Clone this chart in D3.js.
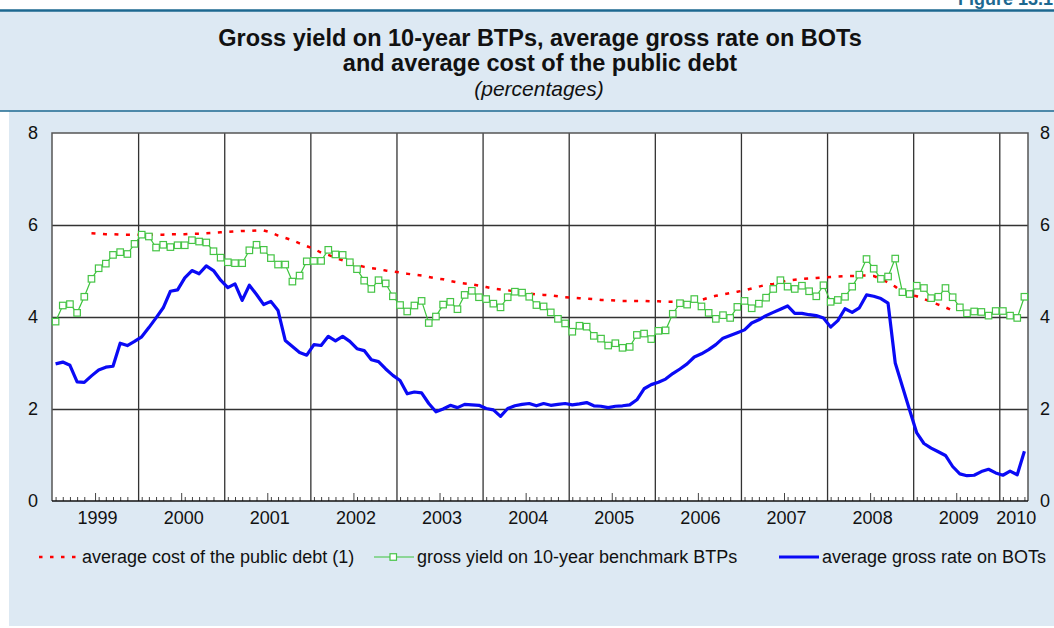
<!DOCTYPE html>
<html>
<head>
<meta charset="utf-8">
<script src="https://cdn.jsdelivr.net/npm/d3@7"></script>
<style>
  body { margin: 0; background: #fff; }
  svg { display: block; font-family: "Liberation Sans", Arial, sans-serif; }
</style>
</head>
<body>
<svg id="chart"></svg>
<script>
// monthly data, Jan 1999 - Apr 2010
const firstYear = 1999;
const yearLabels = ["1999","2000","2001","2002","2003","2004","2005","2006","2007","2008","2009","2010"];
const yTicks = [0, 2, 4, 6, 8];

const btpYield = [
  3.90, 4.25, 4.28, 4.09, 4.44, 4.83, 5.06, 5.16, 5.35, 5.41, 5.37, 5.59,
  5.79, 5.75, 5.51, 5.57, 5.52, 5.56, 5.56, 5.67, 5.64, 5.62, 5.43, 5.29,
  5.19, 5.17, 5.17, 5.45, 5.57, 5.46, 5.28, 5.14, 5.14, 4.77, 4.90, 5.21,
  5.22, 5.22, 5.46, 5.36, 5.35, 5.19, 5.04, 4.79, 4.61, 4.80, 4.73, 4.45,
  4.26, 4.12, 4.25, 4.35, 3.87, 4.01, 4.27, 4.33, 4.17, 4.48, 4.57, 4.43,
  4.39, 4.29, 4.21, 4.43, 4.55, 4.53, 4.44, 4.26, 4.23, 4.10, 3.96, 3.86,
  3.68, 3.81, 3.79, 3.59, 3.53, 3.38, 3.43, 3.33, 3.35, 3.61, 3.64, 3.52,
  3.70, 3.71, 4.07, 4.30, 4.27, 4.39, 4.23, 4.09, 3.96, 4.04, 3.98, 4.22,
  4.35, 4.19, 4.29, 4.42, 4.61, 4.80, 4.66, 4.61, 4.68, 4.56, 4.45, 4.69,
  4.33, 4.37, 4.44, 4.66, 4.92, 5.26, 5.05, 4.83, 4.88, 5.27, 4.54, 4.50,
  4.68, 4.63, 4.41, 4.44, 4.63, 4.43, 4.21, 4.08, 4.12, 4.11, 4.03, 4.13,
  4.13, 4.03, 3.98, 4.44
];

const botRate = [
  2.98, 3.02, 2.95, 2.59, 2.58, 2.72, 2.85, 2.91, 2.93, 3.43, 3.38, 3.47,
  3.57, 3.77, 3.98, 4.20, 4.56, 4.59, 4.85, 5.01, 4.94, 5.11, 5.01, 4.80,
  4.64, 4.72, 4.36, 4.69, 4.49, 4.27, 4.34, 4.14, 3.49, 3.36, 3.23, 3.17,
  3.40, 3.38, 3.58, 3.48, 3.58, 3.47, 3.31, 3.27, 3.07, 3.03, 2.87, 2.73,
  2.62, 2.33, 2.37, 2.35, 2.12, 1.94, 2.00, 2.08, 2.03, 2.10, 2.09, 2.08,
  2.01, 1.98, 1.84, 2.01, 2.07, 2.10, 2.12, 2.07, 2.12, 2.08, 2.10, 2.12,
  2.09, 2.11, 2.14, 2.07, 2.06, 2.03, 2.06, 2.07, 2.09, 2.20, 2.44, 2.53,
  2.58, 2.65, 2.77, 2.87, 2.98, 3.13, 3.20, 3.29, 3.40, 3.54, 3.60, 3.66,
  3.72, 3.87, 3.94, 4.03, 4.10, 4.17, 4.24, 4.08, 4.08, 4.05, 4.03, 3.98,
  3.78, 3.92, 4.18, 4.10, 4.20, 4.48, 4.45, 4.40, 4.30, 3.00, 2.49, 1.98,
  1.48, 1.25, 1.15, 1.07, 0.99, 0.75, 0.59, 0.55, 0.56, 0.64, 0.69, 0.61,
  0.56, 0.65, 0.57, 1.08
];

// average cost of the public debt, Jun 1999 - Jun 2009
const debtCostStart = 5; // months after Jan 1999
const debtCost = [
  5.82, 5.81, 5.80, 5.80, 5.79, 5.79, 5.79,
  5.79, 5.79, 5.79, 5.79, 5.80, 5.80, 5.80, 5.81, 5.81, 5.82, 5.83, 5.84,
  5.85, 5.86, 5.87, 5.87, 5.88, 5.88, 5.84, 5.77, 5.72, 5.67, 5.60, 5.54,
  5.48, 5.40, 5.35, 5.29, 5.23, 5.18, 5.13, 5.09, 5.06, 5.04, 5.01, 4.99,
  4.97, 4.94, 4.92, 4.90, 4.87, 4.84, 4.82, 4.78, 4.75, 4.73, 4.71, 4.68,
  4.65, 4.62, 4.60, 4.58, 4.56, 4.53, 4.51, 4.49, 4.48, 4.47, 4.45, 4.43,
  4.42, 4.41, 4.40, 4.39, 4.37, 4.37, 4.36, 4.35, 4.35, 4.35, 4.35, 4.34,
  4.34, 4.33, 4.33, 4.34, 4.34, 4.35, 4.37, 4.42, 4.46, 4.49, 4.52, 4.55,
  4.58, 4.62, 4.66, 4.70, 4.72, 4.76, 4.79, 4.81, 4.83, 4.84, 4.85, 4.86,
  4.87, 4.88, 4.89, 4.89, 4.90, 4.90, 4.89, 4.83, 4.75, 4.66, 4.54, 4.49,
  4.45, 4.39, 4.33, 4.27, 4.21, 4.14
];

const legendItems = [
  {name: "average cost of the public debt (1)", key: "cost"},
  {name: "gross yield on 10-year benchmark BTPs", key: "btp"},
  {name: "average gross rate on BOTs", key: "bot"}
];

let width = 1054, height = 628;
let plotLeft = 52, plotRight = 1028, plotTop = 133, plotBottom = 501;
let panelBg = "#dde9f3", ruleColor = "#1d6890";
let labelSize = 18;
let nMonths = btpYield.length;

let svg = d3.select('#chart').attr('width', width).attr('height', height);

// backgrounds and rules
svg.append('rect').attr('x', 9).attr('y', 11).attr('width', width - 9).attr('height', 615).attr('fill', panelBg);
svg.append('rect').attr('x', 0).attr('y', 11).attr('width', 9).attr('height', 100).attr('fill', panelBg);
svg.append('line').attr('x1', 0).attr('x2', width).attr('y1', 10.5).attr('y2', 10.5)
  .attr('stroke', ruleColor).attr('stroke-width', 2.5);
svg.append('line').attr('x1', 0).attr('x2', width).attr('y1', 111).attr('y2', 111)
  .attr('stroke', ruleColor).attr('stroke-width', 1.5);
svg.append('text').attr('x', 958).attr('y', 5).attr('fill', ruleColor)
  .attr('font-weight', 'bold').attr('font-size', 18).text('Figure 13.1');

// titles
let titles = svg.append('g').attr('text-anchor', 'middle').attr('fill', '#111');
titles.append('text').attr('x', 540).attr('y', 46).attr('font-weight', 'bold').attr('font-size', 23.5)
  .text('Gross yield on 10-year BTPs, average gross rate on BOTs');
titles.append('text').attr('x', 540).attr('y', 71).attr('font-weight', 'bold').attr('font-size', 23.5)
  .text('and average cost of the public debt');
titles.append('text').attr('x', 539).attr('y', 96).attr('font-style', 'italic').attr('font-size', 21)
  .text('(percentages)');

// scales
let x = d3.scaleLinear().domain([0, nMonths]).range([plotLeft, plotRight]);
let y = d3.scaleLinear().domain([0, 8]).range([plotBottom, plotTop]);

svg.append('rect').attr('x', plotLeft).attr('y', plotTop)
  .attr('width', plotRight - plotLeft).attr('height', plotBottom - plotTop)
  .attr('fill', '#fff');

// horizontal grid
svg.append('g').attr('transform', `translate(${plotLeft},0)`)
  .call(d3.axisLeft(y).tickValues([2, 4, 6]).tickSize(-(plotRight - plotLeft)).tickFormat(''))
  .call(g => g.select('.domain').remove())
  .call(g => g.selectAll('line').attr('stroke', '#333').attr('stroke-width', 1.3));

// year separators
let yearStarts = d3.range(12, nMonths, 12);
svg.append('g').attr('transform', `translate(0,${plotBottom})`)
  .call(d3.axisBottom(x).tickValues(yearStarts).tickSize(-(plotBottom - plotTop)).tickFormat(''))
  .call(g => g.select('.domain').remove())
  .call(g => g.selectAll('line').attr('stroke', '#333').attr('stroke-width', 1.3));

// monthly minor ticks and mid-year ticks
let monthTicks = d3.range(nMonths).filter(m => m % 12 !== 5 && m % 12 !== 11).map(m => m + 0.5);
let midYear = d3.range(6, nMonths, 12);
svg.append('g').attr('transform', `translate(0,${plotBottom})`)
  .call(d3.axisBottom(x).tickValues(monthTicks).tickSize(-4).tickFormat(''))
  .call(g => g.select('.domain').remove())
  .call(g => g.selectAll('line').attr('stroke', '#444'));
svg.append('g').attr('transform', `translate(0,${plotBottom})`)
  .call(d3.axisBottom(x).tickValues(midYear).tickSize(-8).tickFormat(''))
  .call(g => g.select('.domain').remove())
  .call(g => g.selectAll('line').attr('stroke', '#444'));

// year labels
let yearCenters = yearLabels.map((yr, i) => Math.min(i * 12 + 6, (i * 12 + nMonths) / 2));
svg.append('g').attr('transform', `translate(2,${plotBottom})`)
  .call(d3.axisBottom(x).tickValues(yearCenters).tickSize(0).tickPadding(10)
    .tickFormat((d, i) => yearLabels[i]))
  .call(g => g.select('.domain').remove())
  .call(g => g.selectAll('text').attr('font-size', labelSize).attr('fill', '#111')
    .attr('font-family', '"Liberation Sans", Arial, sans-serif'));

// y labels both sides
svg.append('g').attr('transform', `translate(${plotLeft},0)`)
  .call(d3.axisLeft(y).tickValues(yTicks).tickSize(0).tickPadding(14))
  .call(g => g.select('.domain').remove())
  .call(g => g.selectAll('text').attr('font-size', labelSize).attr('fill', '#111')
    .attr('font-family', '"Liberation Sans", Arial, sans-serif'));
svg.append('g').attr('transform', `translate(${plotRight},0)`)
  .call(d3.axisRight(y).tickValues(yTicks).tickSize(0).tickPadding(12))
  .call(g => g.select('.domain').remove())
  .call(g => g.selectAll('text').attr('font-size', labelSize).attr('fill', '#111')
    .attr('font-family', '"Liberation Sans", Arial, sans-serif'));

// plot border
svg.append('path')
  .attr('d', `M${plotLeft},${plotBottom}V${plotTop}H${plotRight}V${plotBottom}`)
  .attr('fill', 'none').attr('stroke', '#555').attr('stroke-width', 1.5);
svg.append('line').attr('x1', plotLeft).attr('x2', plotRight).attr('y1', plotBottom).attr('y2', plotBottom)
  .attr('stroke', '#111').attr('stroke-width', 1.5);

// series
let line = d3.line().x(d => x(d.m + 0.5)).y(d => y(d.v));
let btpData = btpYield.map((v, m) => ({m, v}));
let botData = botRate.map((v, m) => ({m, v}));
let costData = debtCost.map((v, i) => ({m: i + debtCostStart, v}));

svg.append('path').datum(costData).attr('d', line)
  .attr('fill', 'none').attr('stroke', '#f00').attr('stroke-width', 2.5).attr('stroke-dasharray', '4,7.5');

svg.append('path').datum(btpData).attr('d', line)
  .attr('fill', 'none').attr('stroke', '#3cc43c').attr('stroke-width', 1.2);
svg.selectAll('rect.btp').data(btpData).enter().append('rect').attr('class', 'btp')
  .attr('x', d => x(d.m + 0.5) - 3.25).attr('y', d => y(d.v) - 3.25)
  .attr('width', 6.5).attr('height', 6.5)
  .attr('fill', '#fff').attr('stroke', '#45c445').attr('stroke-width', 1.2);

svg.append('path').datum(botData).attr('d', line)
  .attr('fill', 'none').attr('stroke', '#0a0af5').attr('stroke-width', 3.2).attr('stroke-linejoin', 'round');

// legend
let legendX = [39, 374, 779];
let legend = svg.selectAll('g.legend').data(legendItems).enter().append('g')
  .attr('class', 'legend').attr('transform', (d, i) => `translate(${legendX[i]},557)`);
legend.append('line').attr('x1', 0).attr('x2', 40).attr('y1', 0).attr('y2', 0)
  .attr('stroke', d => d.key == 'cost' ? '#f00' : d.key == 'btp' ? '#3cc43c' : '#0a0af5')
  .attr('stroke-width', d => d.key == 'cost' ? 2.5 : d.key == 'btp' ? 1.2 : 3.2)
  .attr('stroke-dasharray', d => d.key == 'cost' ? '3.5,7.5' : null);
legend.filter(d => d.key == 'btp').append('rect')
  .attr('x', 16).attr('y', -3.25).attr('width', 6.5).attr('height', 6.5)
  .attr('fill', '#fff').attr('stroke', '#45c445').attr('stroke-width', 1.2);
legend.append('text').attr('x', 43).attr('y', 6)
  .attr('font-size', labelSize).attr('fill', '#111').text(d => d.name);
</script>
</body>
</html>
